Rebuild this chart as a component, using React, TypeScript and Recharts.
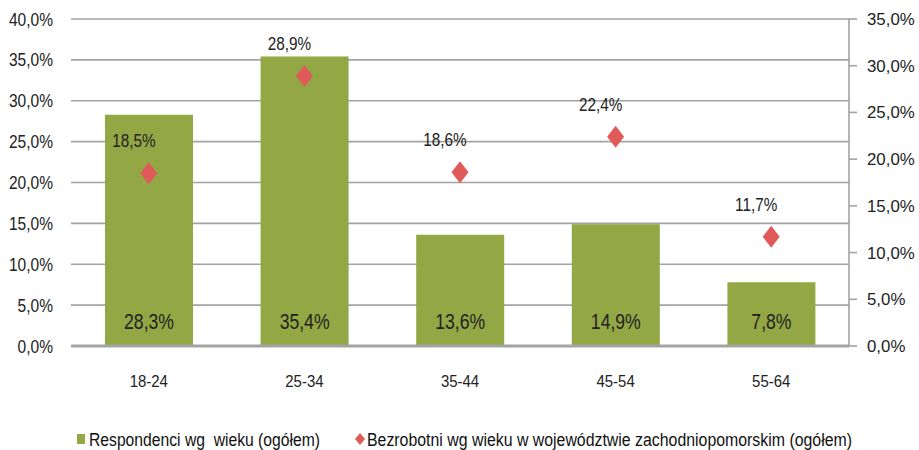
import React from 'react';
import { ComposedChart, Bar, Line, XAxis, YAxis, CartesianGrid, LabelList } from 'recharts';

const ageGroups = ['18-24', '25-34', '35-44', '45-54', '55-64'];
const respondents = [28.3, 35.4, 13.6, 14.9, 7.8];
const unemployed = [18.5, 28.9, 18.6, 22.4, 11.7];
const leftTicks = [0, 5, 10, 15, 20, 25, 30, 35, 40];
const rightTicks = [0, 5, 10, 15, 20, 25, 30, 35];
const legendNames = ['Respondenci wg  wieku (ogółem)', 'Bezrobotni wg wieku w województwie zachodniopomorskim (ogółem)'];

const data = ageGroups.map((age, i) => ({
  age,
  respondents: respondents[i],
  unemployed: unemployed[i],
}));

const FONT = '"Liberation Sans", Arial, sans-serif';
const GREEN = '#93A744';
const RED = '#E05A5A';
const GRID = '#A3A3A3';
const fmt = (v: number) => v.toFixed(1).replace('.', ',') + '%';

// text squeezed horizontally, to stand in for a narrow font
const Narrow = ({ x, y, sx, size, anchor, children }: any) => (
  <text
    transform={`translate(${x},${y}) scale(${sx},1)`}
    textAnchor={anchor}
    fontSize={size}
    fill="#222"
    fontFamily={FONT}
  >
    {children}
  </text>
);

const Diamond = (props: any) => {
  const { cx, cy } = props;
  if (cx == null || cy == null) return null;
  return <polygon points={`${cx},${cy - 11} ${cx + 8.5},${cy} ${cx},${cy + 11} ${cx - 8.5},${cy}`} fill={RED} />;
};

const BarLabel = (props: any) => {
  const { x, width, value } = props;
  return (
    <Narrow x={x + width / 2} y={329} sx={0.8} size={22} anchor="middle">
      {fmt(value)}
    </Narrow>
  );
};

const DotLabel = (props: any) => {
  const { x, y, value } = props;
  return (
    <Narrow x={x - 15} y={y - 26} sx={0.85} size={18} anchor="middle">
      {fmt(value)}
    </Narrow>
  );
};

const LeftTick = (props: any) => {
  const { y, payload } = props;
  return (
    <Narrow x={53} y={y + 6.5} sx={0.84} size={18.5} anchor="end">
      {fmt(payload.value)}
    </Narrow>
  );
};

const RightTick = (props: any) => {
  const { y, payload } = props;
  return (
    <Narrow x={867} y={y + 6} sx={0.98} size={17.2} anchor="start">
      {fmt(payload.value)}
    </Narrow>
  );
};

const AgeTick = (props: any) => {
  const { x, payload } = props;
  return (
    <Narrow x={x} y={387} sx={0.88} size={17} anchor="middle">
      {payload.value}
    </Narrow>
  );
};

const LegendBox = () => (
  <svg style={{ position: 'absolute', left: 0, top: 420 }} width={919} height={30}>
    <rect x={77} y={14} width={8} height={10} fill={GREEN} />
    <text x={89} y={26} fontSize={18} fill="#111" fontFamily={FONT} textLength={231} lengthAdjust="spacingAndGlyphs" xmlSpace="preserve">
      {legendNames[0]}
    </text>
    <polygon points="360,13 365,19 360,25 355,19" fill={RED} />
    <text x={367} y={26} fontSize={18} fill="#111" fontFamily={FONT} textLength={485} lengthAdjust="spacingAndGlyphs">
      {legendNames[1]}
    </text>
  </svg>
);

export default function App() {
  return (
    <div style={{ position: 'absolute', left: 0, top: 0, width: 919, height: 450, background: '#fff' }}>
      <ComposedChart width={919} height={450} data={data} margin={{ top: 19, right: 0, left: 0, bottom: 0 }}>
        <CartesianGrid vertical={false} stroke={GRID} strokeWidth={1.6} yAxisId="left" />
        <XAxis
          dataKey="age"
          height={104}
          tickLine={false}
          axisLine={{ stroke: GRID, strokeWidth: 3 }}
          tick={<AgeTick />}
        />
        <YAxis
          yAxisId="left"
          width={71}
          domain={[0, 40]}
          ticks={leftTicks}
          axisLine={false}
          tickLine={false}
          tick={<LeftTick />}
        />
        <YAxis
          yAxisId="right"
          orientation="right"
          width={70}
          domain={[0, 35]}
          ticks={rightTicks}
          axisLine={{ stroke: GRID, strokeWidth: 1.6 }}
          tickLine={{ stroke: GRID, strokeWidth: 1.6 }}
          tickSize={8}
          tick={<RightTick />}
        />
        <Bar yAxisId="left" dataKey="respondents" fill={GREEN} barSize={88} isAnimationActive={false}>
          <LabelList dataKey="respondents" content={<BarLabel />} />
        </Bar>
        <Line
          yAxisId="right"
          dataKey="unemployed"
          stroke="none"
          dot={<Diamond />}
          activeDot={false}
          isAnimationActive={false}
        >
          <LabelList dataKey="unemployed" content={<DotLabel />} />
        </Line>
      </ComposedChart>
      <LegendBox />
    </div>
  );
}
